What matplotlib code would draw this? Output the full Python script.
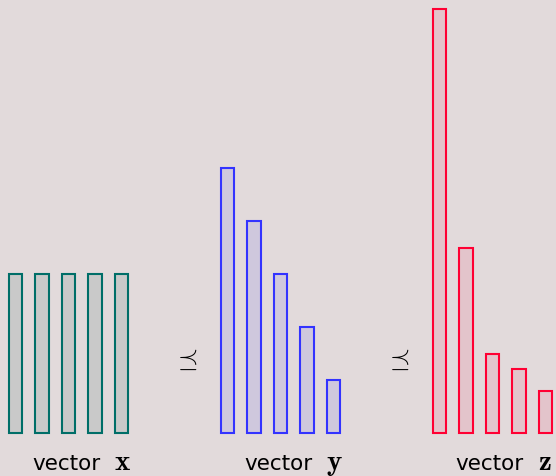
import numpy as np
import matplotlib
matplotlib.use("Agg")
import matplotlib.pyplot as plt

plt.rcParams['mathtext.fontset'] = 'cm'

# values of the three vectors (same sum: 15)
vec_x = [3, 3, 3, 3, 3]
vec_y = [5, 4, 3, 2, 1]
vec_z = [8, 3.5, 1.5, 1.2, 0.8]
names = ["x", "y", "z"]

edge_colors = ["#006e68", "#3333ff", "#ff0033"]
face_colors = ["#c9c9c9", "#cfc8dd", "#e3c4cb"]
bg = "#e2dadb"

fig = plt.figure(figsize=(5.56, 4.76), dpi=100)
fig.patch.set_facecolor(bg)
ax = fig.add_axes([0, 0, 1, 1])
ax.set_facecolor(bg)

group_gap = 8
for g, vals in enumerate([vec_x, vec_y, vec_z]):
    pos = g * group_gap + np.arange(len(vals))
    ax.bar(pos, vals, width=0.5, color=face_colors[g],
           edgecolor=edge_colors[g], linewidth=1.5)
    # label: sans "vector" + bold serif letter
    ax.text(g * group_gap + 0.62, -0.70, "vector", ha="left", va="baseline",
            fontsize=15.5)
    ax.text(g * group_gap + 3.72, -0.70, r"$\mathbf{%s}$" % names[g],
            ha="left", va="baseline", fontsize=21)

for g in range(1, 3):
    ax.text(g * group_gap - 1.6, 1.38, r"$\preceq$", ha="center", va="center",
            fontsize=19)

ax.set_xlim(-0.585, 20.4)
ax.set_ylim(-0.811, 8.17)
ax.axis("off")

fig.savefig("out.png", dpi=100, facecolor=bg)
